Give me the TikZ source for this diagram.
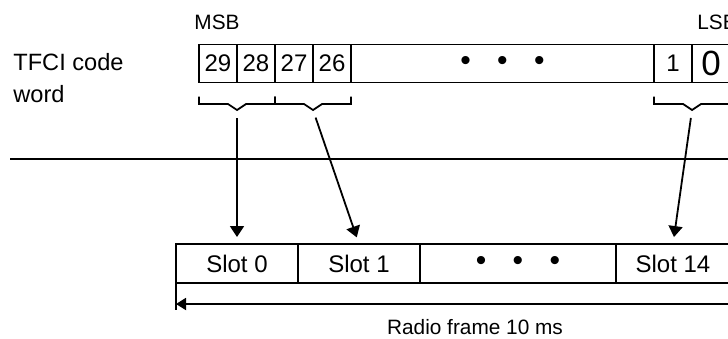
\documentclass[tikz,border=0pt]{standalone}
\usepackage{fontspec}
\setmainfont{Liberation Sans}
\usetikzlibrary{positioning, arrows.meta, calc}

\begin{document}
\begin{tikzpicture}[x=0.5pt, y=-0.5pt, line width=0.9pt,
					bitbox/.style={draw, rectangle, minimum width=19pt, minimum height=19pt, inner sep=0pt, outer sep=0pt, font=\fontsize{12}{14}\selectfont},
					slotbox/.style={draw, rectangle, minimum width=61pt, minimum height=19.5pt, inner sep=0pt, outer sep=0pt, font=\fontsize{12}{14}\selectfont},
					dots/.style={font=\fontsize{15}{16}\selectfont},
					arrow/.style={-{Triangle[length=5.5pt, width=7pt]}, shorten <=4pt, shorten >=3.5pt},
					dimarrow/.style={{Triangle[length=5pt, width=6pt]}-},
					note/.style={font=\fontsize{10.4}{12}\selectfont, inner sep=0pt}
					]
					\useasboundingbox (0,0) rectangle (728,338);
					\clip (0,0) rectangle (728,338);
					
					% Code word
					\node[note, anchor=west, align=left, font=\fontsize{11.8}{16}\selectfont] (tfci) at (12.5,78.5) {TFCI code\\word};
					\node[bitbox] (b29) at (218,63.5) {29};
					\node[bitbox, right=0pt of b29] (b28) {28};
					\node[bitbox, right=0pt of b28] (b27) {27};
					\node[bitbox, right=0pt of b27] (b26) {26};
					\node[bitbox, dots, right=0pt of b26, minimum width=151.5pt] (bdots) {\raisebox{-0.6pt}{\textbullet\hspace{13.25pt}\textbullet\hspace{13.25pt}\textbullet}};
					\node[bitbox, right=0pt of bdots] (b1) {1};
					\node[bitbox, right=0pt of b1, font=\fontsize{17.5}{20}\selectfont] (b0) {0};
					\node[note] (msb) at (217,22) {MSB};
					\node[note] (lsb) at (717,22) {LSB};
					
					% Brackets
					\coordinate (br1) at ($(b29.south east)+(0,27.5)$);
					\coordinate (br2) at ($(b26.south west)+(0,27.5)$);
					\coordinate (br3) at ($(b0.south west)+(0,27.5)$);
					\draw ($(b29.south west)+(0,14)$) |- ($(br1)+(-9,-6)$) -- (br1) -- ($(br1)+(9,-6)$) -| ($(b28.south east)+(0,14)$);
					\draw ($(b27.south west)+(0,14)$) |- ($(br2)+(-9,-6)$) -- (br2) -- ($(br2)+(9,-6)$) -| ($(b26.south east)+(0,14)$);
					\draw ($(b1.south west)+(0,14)$) |- ($(br3)+(-9,-6)$) -- (br3) -- ($(br3)+(9,-6)$) -| ($(b0.south east)+(0,14)$);
					
					% Divider
					\draw[line width=1.1pt] (10,159) -- (728,159);
					
					% Radio frame
					\node[slotbox] (slot0) at (237,263.5) {Slot 0};
					\node[slotbox, right=0pt of slot0] (slot1) {Slot 1};
					\node[slotbox, dots, right=0pt of slot1, minimum width=98pt] (slotdots) {\raisebox{-0.6pt}{\textbullet\hspace{13.25pt}\textbullet\hspace{13.25pt}\textbullet}};
					\node[slotbox, right=0pt of slotdots, minimum width=57pt] (slot14) {Slot 14};
					
					% Arrows
					\draw[arrow] (br1) -- (slot0.north);
					\draw[arrow] (br2) -- (slot1.north);
					\draw[arrow] (br3) -- (slot14.north);
					
					% Frame length
					\draw (slot0.south west) -- ++(0,27);
					\draw (slot14.south east) -- ++(0,27);
					\draw[dimarrow] ($(slot0.south west)+(0,21)$) -- ($(slot14.south east)+(0,21)$);
					\node[note] (frame) at (475,327.5) {Radio frame 10 ms};
					
				\end{tikzpicture}
\end{document}
